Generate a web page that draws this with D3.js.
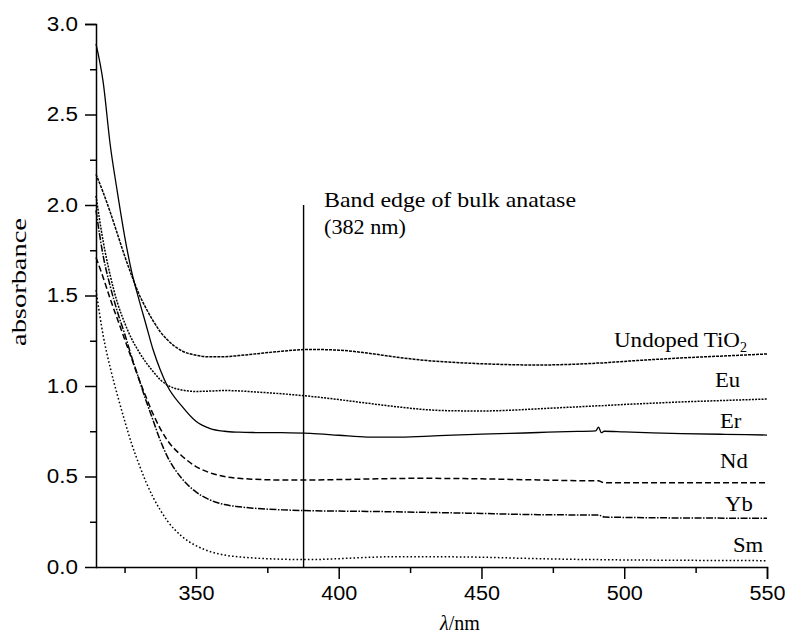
<!DOCTYPE html>
<html>
<head>
<meta charset="utf-8">
<script src="https://cdn.jsdelivr.net/npm/d3@7"></script>
<style>
  html, body { margin: 0; padding: 0; background: #fff; }
  svg { display: block; }
</style>
</head>
<body>
<svg id="chart" width="785" height="637"></svg>
<script>
// ---- data ----
const lambda = [315, 317.5, 320, 322.5, 325, 327.5, 330, 332.5, 335, 337.5, 340, 345, 350, 355, 360, 365, 370, 380, 390, 400, 410, 420, 430, 440, 450, 460, 470, 480, 490, 491, 492, 493, 500, 510, 520, 535, 550];

const undoped = [2.17, 2.07, 1.96, 1.84, 1.72, 1.61, 1.51, 1.43, 1.36, 1.30, 1.255, 1.195, 1.17, 1.161, 1.162, 1.168, 1.176, 1.192, 1.202, 1.198, 1.182, 1.160, 1.142, 1.131, 1.123, 1.118, 1.116, 1.119, 1.126, 1.127, 1.127, 1.128, 1.136, 1.146, 1.155, 1.166, 1.177];
const eu = [2.05, 1.80, 1.61, 1.46, 1.35, 1.26, 1.19, 1.13, 1.08, 1.035, 1.005, 0.978, 0.970, 0.972, 0.975, 0.973, 0.968, 0.957, 0.943, 0.925, 0.905, 0.886, 0.870, 0.863, 0.862, 0.866, 0.874, 0.882, 0.890, 0.891, 0.891, 0.892, 0.898, 0.905, 0.912, 0.920, 0.928];
const er = [2.89, 2.68, 2.33, 2.07, 1.83, 1.63, 1.48, 1.34, 1.20, 1.09, 1.00, 0.89, 0.805, 0.765, 0.750, 0.745, 0.743, 0.742, 0.738, 0.728, 0.718, 0.717, 0.722, 0.729, 0.734, 0.738, 0.743, 0.748, 0.752, 0.772, 0.742, 0.750, 0.746, 0.741, 0.737, 0.733, 0.729];
const nd = [1.71, 1.60, 1.48, 1.37, 1.26, 1.15, 1.04, 0.94, 0.845, 0.765, 0.70, 0.615, 0.555, 0.52, 0.50, 0.49, 0.485, 0.481, 0.481, 0.483, 0.486, 0.489, 0.490, 0.489, 0.487, 0.484, 0.481, 0.478, 0.476, 0.476, 0.470, 0.466, 0.465, 0.465, 0.465, 0.465, 0.465];
const yb = [1.97, 1.72, 1.55, 1.41, 1.29, 1.16, 1.04, 0.92, 0.81, 0.70, 0.61, 0.49, 0.415, 0.37, 0.345, 0.333, 0.325, 0.316, 0.311, 0.309, 0.307, 0.305, 0.302, 0.299, 0.296, 0.292, 0.289, 0.288, 0.287, 0.287, 0.282, 0.276, 0.274, 0.272, 0.271, 0.270, 0.269];
const sm = [1.53, 1.28, 1.10, 0.95, 0.81, 0.68, 0.57, 0.47, 0.385, 0.315, 0.255, 0.17, 0.118, 0.085, 0.066, 0.056, 0.05, 0.043, 0.041, 0.046, 0.053, 0.057, 0.057, 0.056, 0.054, 0.05, 0.046, 0.043, 0.041, 0.041, 0.040, 0.040, 0.039, 0.038, 0.037, 0.036, 0.035];

const seriesNames = ["Undoped TiO2", "Eu", "Er", "Nd", "Yb", "Sm"];
const seriesValues = [undoped, eu, er, nd, yb, sm];

const xTicksMajor = [350, 400, 450, 500, 550];
const xTicksMinor = [325, 375, 425, 475, 525];
const yTicksMajor = [0.0, 0.5, 1.0, 1.5, 2.0, 2.5, 3.0];
const yTicksMinor = [0.25, 0.75, 1.25, 1.75, 2.25, 2.75];

const bandEdge = 387.7;        // where the vertical marker is drawn
const bandEdgeTop = 2.0;

// ---- layout / style ----
const W = 785, H = 637;
const margin = { left: 96, right: 18, top: 24, bottom: 70 };
const dashes = {
  "Undoped TiO2": "3,1",
  "Eu": "2,1.2",
  "Er": null,
  "Nd": "6,3",
  "Yb": "7,1.5,1.5,1.5",
  "Sm": "1.6,2.2"
};
// label anchors (start x in px, baseline y in px)
const labelPos = {
  "Undoped TiO2": [614, 347],
  "Eu": [715, 387],
  "Er": [720, 428],
  "Nd": [720, 468],
  "Yb": [725, 511],
  "Sm": [733, 552]
};

const svg = d3.select("#chart");
const x = d3.scaleLinear().domain([315, 550]).range([margin.left, W - margin.right]);
const y = d3.scaleLinear().domain([0, 3]).range([H - margin.bottom, margin.top]);

const serif = "'Liberation Serif', 'Times New Roman', Times, serif";
const sans = "'Liberation Sans', Arial, Helvetica, sans-serif";

function stretch(sel, factor) {
  sel.each(function () {
    const len = this.getComputedTextLength();
    d3.select(this).attr("textLength", len * factor).attr("lengthAdjust", "spacingAndGlyphs");
  });
}

// curves
const line = d3.line()
  .x((d, i) => x(lambda[i]))
  .y(d => y(d))
  .curve(d3.curveMonotoneX);

const gLines = svg.append("g");
seriesNames.forEach((name, k) => {
  gLines.append("path")
    .datum(seriesValues[k])
    .attr("fill", "none")
    .attr("stroke", "#000")
    .attr("stroke-width", name === "Er" ? 1.3 : 1.5)
    .attr("stroke-dasharray", dashes[name])
    .attr("d", line);
});

// band edge marker
svg.append("line")
  .attr("x1", x(bandEdge)).attr("x2", x(bandEdge))
  .attr("y1", y(0)).attr("y2", y(bandEdgeTop))
  .attr("stroke", "#000").attr("stroke-width", 1.4);

// axes
const xAxis = svg.append("g")
  .attr("transform", `translate(0,${y(0)})`)
  .call(d3.axisBottom(x).tickValues(xTicksMajor).tickSize(12).tickPadding(7).tickFormat(d3.format("d")));
svg.append("g")
  .attr("transform", `translate(0,${y(0)})`)
  .call(d3.axisBottom(x).tickValues(xTicksMinor).tickSize(6).tickFormat(""))
  .call(g => g.select(".domain").remove());

const yAxis = svg.append("g")
  .attr("transform", `translate(${x(315)},0)`)
  .call(d3.axisLeft(y).tickValues(yTicksMajor).tickSize(11).tickPadding(7).tickFormat(d3.format(".1f")));
svg.append("g")
  .attr("transform", `translate(${x(315)},0)`)
  .call(d3.axisLeft(y).tickValues(yTicksMinor).tickSize(6).tickFormat(""))
  .call(g => g.select(".domain").remove());

svg.selectAll(".domain").attr("stroke", "#000").attr("stroke-width", 1.5);
svg.selectAll(".tick line").attr("stroke", "#000").attr("stroke-width", 1.5);
svg.selectAll(".domain").attr("d", function () {
  return d3.select(this).attr("d").replace(/M([^,]+),12V/, "M$1,0V").replace(/M-11,/, "M0,");
});

xAxis.selectAll("text").attr("font-family", sans).attr("font-size", 20).attr("fill", "#000");
yAxis.selectAll("text").attr("font-family", sans).attr("font-size", 20).attr("fill", "#000");
stretch(xAxis.selectAll("text"), 1.08);
stretch(yAxis.selectAll("text"), 1.12);

// axis titles
const yt = svg.append("text")
  .attr("transform", "translate(26,282) rotate(-90)")
  .attr("text-anchor", "middle")
  .attr("font-family", serif).attr("font-size", 22)
  .text("absorbance");
yt.attr("textLength", 128).attr("lengthAdjust", "spacingAndGlyphs");

const xt = svg.append("text")
  .attr("x", 440).attr("y", 630)
  .attr("text-anchor", "start")
  .attr("font-family", serif).attr("font-size", 20);
xt.append("tspan").attr("font-style", "italic").text("λ");
xt.append("tspan").text("/nm");

// annotation
const ann1 = svg.append("text").attr("x", 324).attr("y", 207)
  .attr("font-family", serif).attr("font-size", 21).text("Band edge of bulk anatase");
ann1.attr("textLength", 252).attr("lengthAdjust", "spacingAndGlyphs");
const ann2 = svg.append("text").attr("x", 324).attr("y", 234)
  .attr("font-family", serif).attr("font-size", 21).text("(382 nm)");
ann2.attr("textLength", 82).attr("lengthAdjust", "spacingAndGlyphs");

// series labels
seriesNames.forEach(name => {
  const [lx, ly] = labelPos[name];
  const t = svg.append("text").attr("x", lx).attr("y", ly)
    .attr("font-family", serif).attr("font-size", 21).attr("fill", "#000");
  if (name === "Undoped TiO2") {
    const a = t.append("tspan").text("Undoped TiO");
    a.attr("textLength", 126).attr("lengthAdjust", "spacingAndGlyphs");
    t.append("tspan").attr("font-size", 14).attr("dy", 5).text("2");
  } else {
    t.text(name);
    stretch(t, 1.08);
  }
});
</script>
</body>
</html>
